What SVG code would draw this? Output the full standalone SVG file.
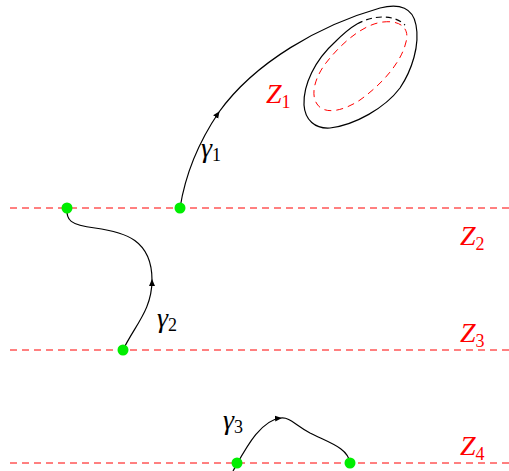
<svg xmlns="http://www.w3.org/2000/svg" width="509" height="471" viewBox="0 0 509 471">
<style>
.zone{stroke:#ff0000;stroke-width:1;stroke-dasharray:7,5;fill:none}
.curve{stroke:#000;stroke-width:1.2;fill:none}
.dot{fill:#00ee00}
</style>
<defs>
<marker id="arr" markerWidth="8" markerHeight="8" refX="6" refY="4" orient="auto" markerUnits="userSpaceOnUse">
<path d="M0,1 L7,4 L0,7 Z" fill="#000"/>
</marker>
</defs>
<g id="zones">
<line class="zone" x1="10" y1="208" x2="509" y2="208"/>
<line class="zone" x1="10" y1="350" x2="509" y2="350"/>
<line class="zone" x1="10" y1="463" x2="509" y2="463"/>
<path class="zone" d="M383,22 C400,20 410,28 406,42 C402,60 385,82 360,100 C345,110 325,116 317,104 C310,94 315,75 330,58 C345,40 365,24 383,22 Z"/>
</g>
<g id="connectors">
<path class="curve" marker-end="url(#arr)" d="M180,208 C186,170 200,140 219,112"/>
<path class="curve" d="M219,112 C255,62 320,25 380,8 C400,3 413,8 416,25 C420,45 412,70 400,88 C385,108 355,125 330,128 C315,129 305,120 304,105 C303,85 315,60 335,42 C342,35 350,28 357,24"/>
<path class="curve" stroke-dasharray="6,4" d="M357,24 C375,14 395,15 405,25"/>
<path class="curve" marker-end="url(#arr)" d="M123,350 C135,325 152,310 152,280"/>
<path class="curve" d="M152,280 C152,240 125,232 95,228 C70,225 66,220 67,208"/>
<path class="curve" marker-end="url(#arr)" d="M233,471 C245,450 260,420 281,418"/>
<path class="curve" d="M281,418 C290,417 295,425 310,433 C330,443 348,448 350,463"/>
</g>
<g id="dots">
<circle class="dot" cx="67" cy="208" r="5.5"/>
<circle class="dot" cx="180" cy="208" r="5.5"/>
<circle class="dot" cx="123" cy="350" r="5.5"/>
<circle class="dot" cx="237" cy="463" r="5.5"/>
<circle class="dot" cx="350" cy="463" r="5.5"/>
</g>
<g id="labels" font-family="Liberation Serif, serif" font-style="italic" font-size="28">
<text fill="#ff0000" x="266" y="103">Z<tspan font-style="normal" font-size="18" dy="5">1</tspan></text>
<text fill="#ff0000" x="460" y="245">Z<tspan font-style="normal" font-size="18" dy="5">2</tspan></text>
<text fill="#ff0000" x="460" y="342">Z<tspan font-style="normal" font-size="18" dy="5">3</tspan></text>
<text fill="#ff0000" x="460" y="455">Z<tspan font-style="normal" font-size="18" dy="5">4</tspan></text>
<text fill="#000" x="201" y="157">γ<tspan font-style="normal" font-size="18" dy="4">1</tspan></text>
<text fill="#000" x="157" y="327">γ<tspan font-style="normal" font-size="18" dy="4">2</tspan></text>
<text fill="#000" x="223" y="429">γ<tspan font-style="normal" font-size="18" dy="4">3</tspan></text>
</g>
</svg>
